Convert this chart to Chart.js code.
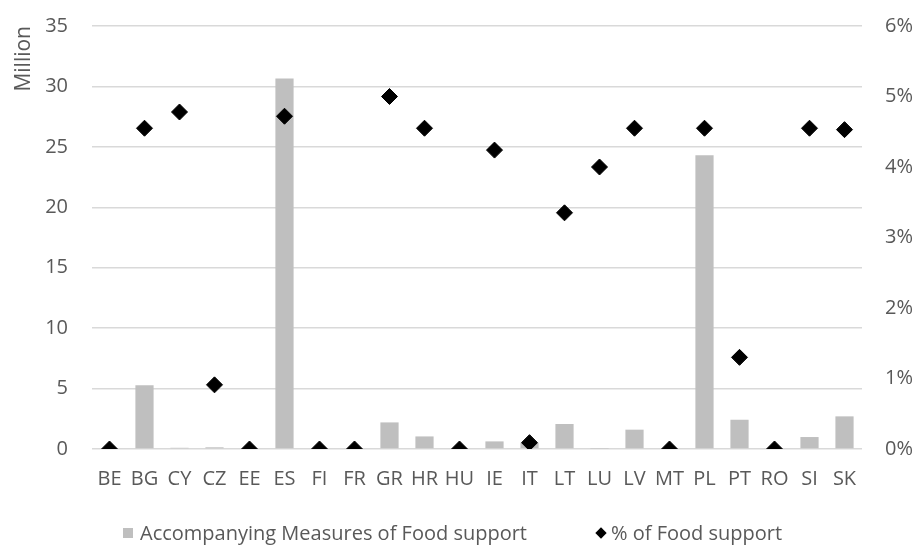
<!DOCTYPE html>
<html>
<head>
<meta charset="utf-8">
<script src="https://cdn.jsdelivr.net/npm/chart.js@4.4.1/dist/chart.umd.min.js"></script>
<style>
	html, body { margin: 0; padding: 0; background: #fff; }
	#wrap { position: relative; width: 918px; height: 546px; }
	#legend { position: absolute; left: 0; top: 521px; width: 918px; height: 24px; font-family: 'Open Sans', sans-serif; font-size: 20px; line-height: 24px; color: #595959; }
	#legend .item { position: absolute; top: 0; display: flex; align-items: center; white-space: nowrap; }
	#legend .box { width: 10px; height: 10px; margin-right: 7px; }
	#legend .diamond { width: 8px; height: 8px; transform: rotate(45deg); margin: 0 6px 0 2px; }
</style>
</head>
<body>
<div id="wrap">
	<canvas id="chart" width="918" height="546"></canvas>
	<div id="legend"></div>
</div>
<script>
/*jshint esversion: 6 */

const countries = [ 'BE', 'BG', 'CY', 'CZ', 'EE', 'ES', 'FI', 'FR', 'GR', 'HR', 'HU',
	'IE', 'IT', 'LT', 'LU', 'LV', 'MT', 'PL', 'PT', 'RO', 'SI', 'SK' ];

// Accompanying measures, million EUR (left axis)
const measuresMillion = [ 0, 5.28, 0.1, 0.14, 0, 30.65, 0, 0, 2.2, 1.04, 0,
	0.63, 0.5, 2.07, 0.03, 1.6, 0, 24.3, 2.42, 0, 0.99, 2.7 ];

// share of food support, % (right axis)
const foodSupportPct = [ 0, 4.55, 4.78, 0.91, 0, 4.72, 0, 0, 5.0, 4.55, 0,
	4.24, 0.09, 3.35, 4.0, 4.55, 0, 4.55, 1.3, 0, 4.55, 4.53 ];

const seriesNames = [ 'Accompanying Measures of Food support', '% of Food support' ];
const leftAxis = { max: 35, step: 5, title: 'Million' };
const rightAxis = { max: 6, step: 1 };

const textColor = '#595959';
const fontFamily = "'Open Sans', sans-serif";

// legend items sit at fixed spots under the plot, like the Excel original
const legendSpots = [ 123, 595 ];

const htmlLegend = {
	id: 'htmlLegend',
	afterUpdate: ( chart ) => {
		const box = document.getElementById( 'legend' );
		box.innerHTML = '';
		chart.data.datasets.forEach( ( ds, i ) => {
			const item = document.createElement( 'div' );
			item.className = 'item';
			item.style.left = legendSpots[ i ] + 'px';
			const mark = document.createElement( 'span' );
			mark.className = ds.type === 'bar' ? 'box' : 'diamond';
			mark.style.background = ds.type === 'bar' ? ds.backgroundColor : ds.pointBackgroundColor;
			const label = document.createElement( 'span' );
			label.textContent = ds.label;
			item.appendChild( mark );
			item.appendChild( label );
			box.appendChild( item );
		} );
	}
};

// Chart.js counts tick padding twice and adds it above the top label,
// so pin the axis widths to match the original plot area
const fixAxis = ( width ) => ( scale ) => {
	scale.width = width;
	scale.paddingTop = 0;
	scale.paddingBottom = 0;
};

window.onload = () => {
	const ctx = document.getElementById( 'chart' ).getContext( '2d' );
	new Chart( ctx, {
		data: {
			labels: countries,
			datasets: [
				{
					type: 'bar',
					label: seriesNames[ 0 ],
					data: measuresMillion,
					yAxisID: 'y',
					backgroundColor: '#BFBFBF',
					categoryPercentage: 1,
					barPercentage: 0.52,
					order: 1,
				},
				{
					type: 'line',
					label: seriesNames[ 1 ],
					data: foodSupportPct,
					yAxisID: 'y1',
					showLine: false,
					pointStyle: 'rectRot',
					pointRadius: 8,
					pointHoverRadius: 8,
					pointBackgroundColor: '#000000',
					pointBorderColor: '#000000',
					pointBorderWidth: 1,
					order: 0,
				},
			],
		},
		options: {
			responsive: false,
			animation: false,
			devicePixelRatio: 1,
			layout: { padding: { left: 11, right: 0, top: 26, bottom: 37 } },
			plugins: {
				legend: { display: false },
				tooltip: { enabled: false },
			},
			scales: {
				x: {
					grid: { display: false, drawTicks: false },
					border: { display: false },
					ticks: { color: textColor, font: { family: fontFamily, size: 20 }, padding: 18, maxRotation: 0, autoSkip: false },
				},
				y: {
					position: 'left',
					min: 0,
					max: leftAxis.max,
					grid: { color: '#D9D9D9', lineWidth: 1.5, drawTicks: false },
					border: { display: false },
					ticks: { stepSize: leftAxis.step, color: textColor, font: { family: fontFamily, size: 20 }, padding: 24 },
					title: {
						display: true,
						text: leftAxis.title,
						align: 'end',
						color: textColor,
						font: { family: fontFamily, size: 21 },
						padding: 0,
					},
					afterFit: fixAxis( 81 ),
				},
				y1: {
					position: 'right',
					min: 0,
					max: rightAxis.max,
					grid: { display: false, drawTicks: false },
					border: { display: false },
					ticks: {
						stepSize: rightAxis.step,
						color: textColor,
						font: { family: fontFamily, size: 20 },
						padding: 23,
						callback: ( v ) => v + '%',
					},
					afterFit: fixAxis( 56 ),
				},
			},
		},
		plugins: [ htmlLegend ],
	} );
};
</script>
</body>
</html>
